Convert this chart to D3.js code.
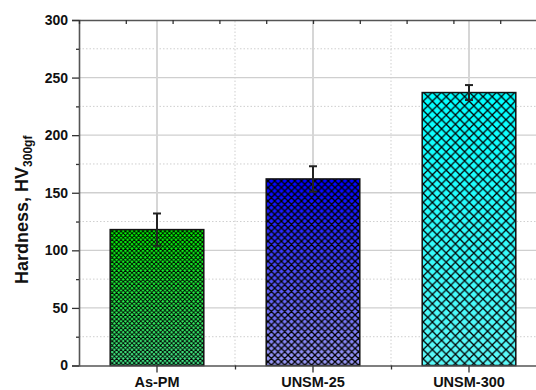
<!DOCTYPE html>
<html>
<head>
<meta charset="utf-8">
<script src="https://cdn.jsdelivr.net/npm/d3@7"></script>
<style>
  html, body { margin: 0; padding: 0; background: #fff; overflow: hidden; }
  svg { display: block; font-family: "Liberation Sans", Arial, sans-serif; }
</style>
</head>
<body>
<svg id="chart" width="536" height="390"></svg>
<script>
// Vickers hardness of the three surface conditions
const categories = ["As-PM", "UNSM-25", "UNSM-300"];
const hardness = [118, 162, 237];
const hardnessErr = [14, 11, 6.5];
const yTicks = [0, 50, 100, 150, 200, 250, 300];
const yMinorTicks = [25, 75, 125, 175, 225, 275];

// per-bar gradient (top -> bottom) and cross-hatch spacing
const gradTop = ["#00ff00", "#0000ff", "#00ffff"];
const gradBottom = ["#48f090", "#9a9af4", "#5cf8f8"];
const hatchSpacing = [4.4, 6.7, 9.2];
const hatchWidth = [0.9, 1.3, 1.3];

const svg = d3.select("#chart");
const margin = { left: 79, top: 20 };
const plotW = 468, plotH = 345.5;

const x = d3.scaleBand().domain(categories).range([margin.left, margin.left + plotW]).paddingInner(0.4).paddingOuter(0.2);
const y = d3.scaleLinear().domain([0, 300]).range([margin.top + plotH, margin.top]);
const xTop = d3.scaleLinear().domain([0, 10]).range([margin.left, margin.left + plotW]);

const defs = svg.append("defs");
categories.forEach((c, i) => {
  const g = defs.append("linearGradient").attr("id", "grad" + i)
    .attr("x1", 0).attr("y1", 0).attr("x2", 0).attr("y2", 1);
  g.append("stop").attr("offset", "0%").attr("stop-color", gradTop[i]);
  g.append("stop").attr("offset", "100%").attr("stop-color", gradBottom[i]);

  const s = hatchSpacing[i];
  const p = defs.append("pattern").attr("id", "hatch" + i)
    .attr("patternUnits", "userSpaceOnUse")
    .attr("width", s).attr("height", s);
  p.append("path")
    .attr("d", `M0,0L${s},${s}M${s},0L0,${s}M${-s/2},${s/2}L${s/2},${-s/2}M${s/2},${s*1.5}L${s*1.5},${s/2}M${-s/2},${s/2}L${s/2},${s*1.5}M${s/2},${-s/2}L${s*1.5},${s/2}`)
    .attr("stroke", "#000").attr("stroke-width", hatchWidth[i]).attr("fill", "none");
});

// grid
const grid = svg.append("g");
grid.selectAll(".hmaj").data(yTicks.filter(t => t > 0 && t < 300)).join("line")
  .attr("x1", margin.left).attr("x2", margin.left + plotW)
  .attr("y1", d => y(d)).attr("y2", d => y(d))
  .attr("stroke", "#cfcfcf").attr("stroke-width", 1.3);
grid.selectAll(".hmin").data(yMinorTicks).join("line")
  .attr("x1", margin.left).attr("x2", margin.left + plotW)
  .attr("y1", d => y(d)).attr("y2", d => y(d))
  .attr("stroke", "#cfcfcf").attr("stroke-width", 1).attr("stroke-dasharray", "1.5,2");
grid.selectAll(".vmaj").data(categories).join("line")
  .attr("x1", d => x(d) + x.bandwidth() / 2).attr("x2", d => x(d) + x.bandwidth() / 2)
  .attr("y1", y(0)).attr("y2", y(300))
  .attr("stroke", "#d6d6d6").attr("stroke-width", 2);
const step = x.step();
grid.selectAll(".vmin").data(categories.slice(1)).join("line")
  .attr("x1", d => x(d) + x.bandwidth() / 2 - step / 2).attr("x2", d => x(d) + x.bandwidth() / 2 - step / 2)
  .attr("y1", y(0)).attr("y2", y(300))
  .attr("stroke", "#cfcfcf").attr("stroke-width", 1).attr("stroke-dasharray", "1.5,2");

// bars
const bars = svg.append("g");
bars.selectAll(".bg").data(categories).join("rect")
  .attr("x", d => x(d)).attr("width", x.bandwidth())
  .attr("y", (d, i) => y(hardness[i])).attr("height", (d, i) => y(0) - y(hardness[i]))
  .attr("fill", (d, i) => `url(#grad${i})`);
bars.selectAll(".hatch").data(categories).join("rect")
  .attr("x", d => x(d)).attr("width", x.bandwidth())
  .attr("y", (d, i) => y(hardness[i])).attr("height", (d, i) => y(0) - y(hardness[i]))
  .attr("fill", (d, i) => `url(#hatch${i})`)
  .attr("stroke", "#111").attr("stroke-width", 1.5);

// error bars
const err = svg.append("g").attr("stroke", "#222").attr("stroke-width", 2);
categories.forEach((c, i) => {
  const cx = x(c) + x.bandwidth() / 2;
  err.append("line").attr("x1", cx).attr("x2", cx)
    .attr("y1", y(hardness[i] - hardnessErr[i])).attr("y2", y(hardness[i] + hardnessErr[i]));
  [hardness[i] - hardnessErr[i], hardness[i] + hardnessErr[i]].forEach(v => {
    err.append("line").attr("x1", cx - 4).attr("x2", cx + 4).attr("y1", y(v)).attr("y2", y(v));
  });
});

// axes
const axisColor = "#555";
svg.append("g").attr("class", "yaxis").attr("transform", `translate(${margin.left},0)`)
  .call(d3.axisLeft(y).tickValues(yTicks).tickSize(7).tickPadding(4));
svg.append("g").attr("transform", `translate(${margin.left},0)`)
  .call(d3.axisLeft(y).tickValues(yMinorTicks).tickSize(3).tickFormat(""))
  .call(g => g.select(".domain").remove());

svg.append("g").attr("class", "xaxis").attr("transform", `translate(0,${y(0)})`)
  .call(d3.axisBottom(x).tickSize(7).tickPadding(4).tickSizeOuter(0));
svg.append("g").attr("transform", `translate(0,${y(0)})`)
  .call(d3.axisBottom(d3.scaleLinear().domain([0, 3]).range([margin.left, margin.left + plotW]))
    .tickValues([1, 2]).tickSize(4).tickFormat(""))
  .call(g => g.select(".domain").remove());

svg.append("g").attr("transform", `translate(0,${margin.top})`)
  .call(d3.axisTop(xTop).ticks(10).tickSize(-4).tickSizeOuter(0).tickFormat(""));

svg.selectAll(".domain").attr("stroke", axisColor).attr("stroke-width", 1.6);
svg.selectAll(".tick line").attr("stroke", "#333").attr("stroke-width", 1.3);
svg.selectAll(".tick text").attr("font-weight", "bold")
  .attr("font-family", "'Liberation Sans', Arial, sans-serif").attr("fill", "#111");
svg.selectAll(".yaxis .tick text").attr("font-size", 14);
svg.selectAll(".xaxis .tick text").attr("font-size", 14.5);

// y-axis title with subscript
const title = svg.append("text")
  .attr("transform", `translate(28,${(y(0) + y(300)) / 2 + 17}) rotate(-90)`)
  .attr("text-anchor", "middle")
  .attr("font-size", 18).attr("font-weight", "bold").attr("fill", "#111");
title.append("tspan").text("Hardness, HV");
title.append("tspan").attr("font-size", 12).attr("dy", 4).text("300gf");
</script>
</body>
</html>
